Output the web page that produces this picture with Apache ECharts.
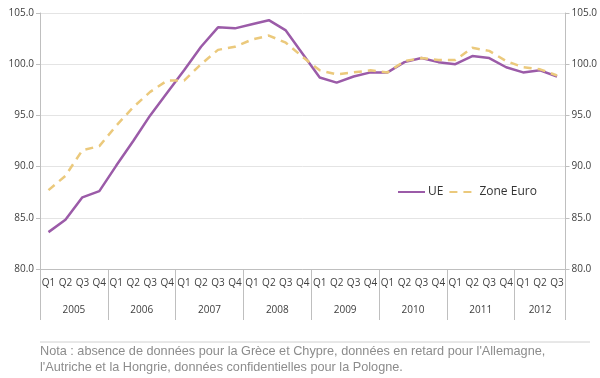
<!DOCTYPE html>
<html>
<head>
<meta charset="utf-8">
<script src="https://cdn.jsdelivr.net/npm/echarts@6/dist/echarts.min.js"></script>
<style>
html,body{margin:0;padding:0;background:#fff;}
#chart{width:600px;height:378px;}
</style>
</head>
<body>
<div id="chart"></div>
<script>
var quarters = ['Q1','Q2','Q3','Q4','Q1','Q2','Q3','Q4','Q1','Q2','Q3','Q4','Q1','Q2','Q3','Q4',
                'Q1','Q2','Q3','Q4','Q1','Q2','Q3','Q4','Q1','Q2','Q3','Q4','Q1','Q2','Q3'];
var years = ['2005','2006','2007','2008','2009','2010','2011','2012'];
var yearBounds = [0,4,8,12,16,20,24,28,31];
var yearCenters = [2,6,10,14,18,22,26,29.5];
var ue = [83.6,84.8,87.0,87.6, 90.1,92.5,95.0,97.2, 99.4,101.7,103.6,103.5, 103.9,104.3,103.3,101.0,
          98.7,98.2,98.8,99.2, 99.2,100.2,100.6,100.2, 100.0,100.8,100.6,99.7, 99.2,99.4,98.8];
var zoneEuro = [87.7,89.1,91.6,92.0, 94.0,95.8,97.3,98.4, 98.4,100.0,101.4,101.7, 102.4,102.8,102.1,100.7,
                99.4,99.0,99.2,99.4, 99.2,100.3,100.6,100.4, 100.4,101.6,101.3,100.3, 99.7,99.5,98.9];
var note = "Nota : absence de données pour la Grèce et Chypre, données en retard pour l'Allemagne,\nl'Autriche et la Hongrie, données confidentielles pour la Pologne.";

var chart = echarts.init(document.getElementById('chart'));
var axisGrey = '#bfbfbf';
var labelCol = '#404040';
var font = 'Open Sans';
chart.setOption({
  animation: false,
  title: {
    text: note,
    left: 40, top: 343, padding: 0,
    textStyle: {fontFamily: 'Liberation Sans', fontSize: 12.7, fontWeight: 'normal', color: '#8c8c8c', lineHeight: 16.5}
  },
  graphic: [{type: 'line', shape: {x1: 40, y1: 342, x2: 590, y2: 342}, style: {stroke: '#d0d0d0', lineWidth: 1}}],
  legend: {
    left: 392, top: 181,
    itemWidth: 27, itemHeight: 10, itemGap: 5,
    itemStyle: {opacity: 0},
    textStyle: {fontFamily: font, fontSize: 12, color: '#333', padding: [0, 0, 0, -2]},
    data: ['UE', 'Zone Euro']
  },
  grid: {left: 40, right: 34, top: 13, bottom: 109, containLabel: false},
  xAxis: [{
    type: 'category', data: quarters, boundaryGap: true,
    axisLine: {lineStyle: {color: axisGrey}},
    axisTick: {interval: 0, length: 28, lineStyle: {color: axisGrey}},
    axisLabel: {interval: 0, margin: 9, fontFamily: font, fontSize: 10, color: labelCol}
  }, {
    type: 'value', min: 0, max: 31, position: 'bottom',
    axisLine: {show: false}, splitLine: {show: false},
    axisTick: {show: true, customValues: yearBounds, length: 51, lineStyle: {color: axisGrey}},
    axisLabel: {customValues: yearCenters, margin: 36, fontFamily: font, fontSize: 10, color: labelCol,
      formatter: function (v) { var i = yearCenters.indexOf(v); return i >= 0 ? years[i] : ''; }}
  }],
  yAxis: [{
    type: 'value', min: 80, max: 105, interval: 5, position: 'left',
    axisLine: {show: true, lineStyle: {color: axisGrey}},
    axisTick: {show: true, length: 4, lineStyle: {color: axisGrey}},
    axisLabel: {margin: 6, fontFamily: font, fontSize: 10, color: labelCol, formatter: function (v) { return v.toFixed(1); }},
    splitLine: {lineStyle: {color: '#e4e4e4'}}
  }, {
    type: 'value', min: 80, max: 105, interval: 5, position: 'right',
    axisLine: {show: true, lineStyle: {color: axisGrey}},
    axisTick: {show: true, length: 4, lineStyle: {color: axisGrey}},
    axisLabel: {margin: 6, fontFamily: font, fontSize: 10, color: labelCol, formatter: function (v) { return v.toFixed(1); }},
    splitLine: {show: false}
  }],
  series: [{
    name: 'UE', type: 'line', data: ue, xAxisIndex: 0, yAxisIndex: 0,
    symbol: 'none', lineStyle: {color: '#9b5ba8', width: 2.5}, itemStyle: {color: '#9b5ba8'}
  }, {
    name: 'Zone Euro', type: 'line', data: zoneEuro, xAxisIndex: 0, yAxisIndex: 0,
    symbol: 'none', lineStyle: {color: '#ebc97c', width: 2.5, type: [8, 6]}, itemStyle: {color: '#ebc97c'}
  }]
});
</script>
</body>
</html>
